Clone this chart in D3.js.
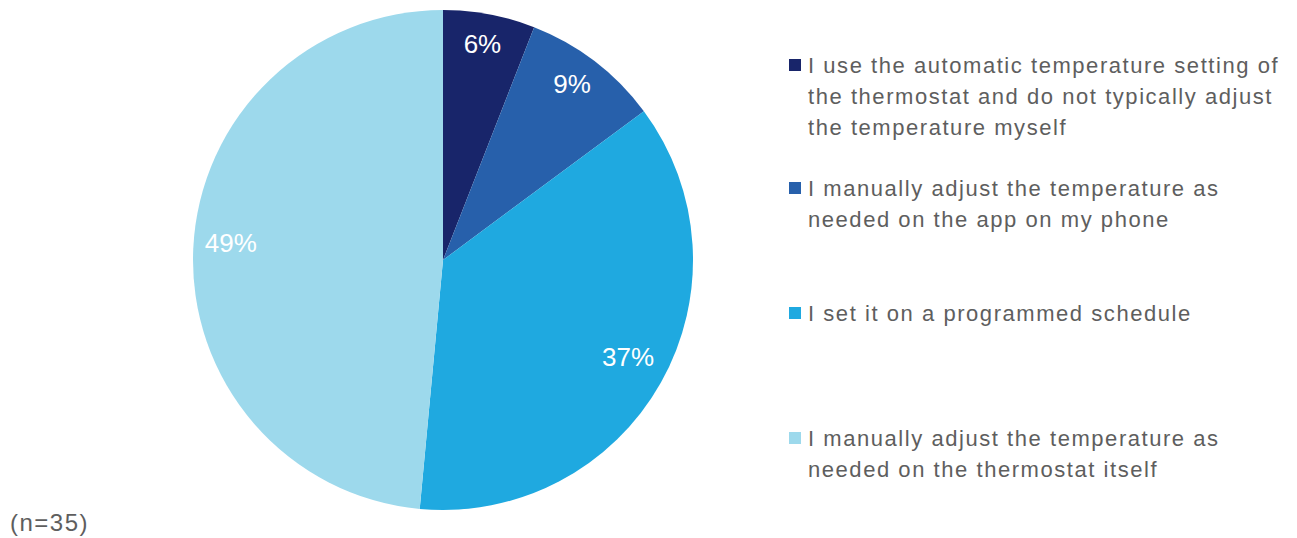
<!DOCTYPE html>
<html>
<head>
<meta charset="utf-8">
<script src="https://cdn.jsdelivr.net/npm/d3@7"></script>
<style>
  html, body { margin: 0; padding: 0; background: #fff; }
  svg { display: block; }
</style>
</head>
<body>
<svg id="chart" width="1297" height="538"></svg>
<script>
// Survey responses: how thermostat temperature is set (n=35)
const categories = [
  "I use the automatic temperature setting of the thermostat and do not typically adjust the temperature myself",
  "I manually adjust the temperature as needed on the app on my phone",
  "I set it on a programmed schedule",
  "I manually adjust the temperature as needed on the thermostat itself"
];
const legendLines = [
  ["I use the automatic temperature setting of", "the thermostat and do not typically adjust", "the temperature myself"],
  ["I manually adjust the temperature as", "needed on the app on my phone"],
  ["I set it on a programmed schedule"],
  ["I manually adjust the temperature as", "needed on the thermostat itself"]
];
const percents = [6, 9, 37, 49];
const colors = ["#18256a", "#2760ab", "#1fa9e0", "#9dd9ec"];
const sampleNote = "(n=35)";

const svg = d3.select("#chart");
const cx = 443, cy = 260, radius = 250;
const font = "'Liberation Sans', Arial, sans-serif";

const data = categories.map((c, i) => ({ category: c, value: percents[i], color: colors[i], lines: legendLines[i] }));

const pie = d3.pie().sort(null).value(d => d.value);
const arc = d3.arc().innerRadius(0).outerRadius(radius);
const labelArc = d3.arc().innerRadius(radius * 0.85).outerRadius(radius * 0.85);

const g = svg.append("g").attr("transform", `translate(${cx},${cy})`);
const arcs = pie(data);

g.selectAll("path.slice")
  .data(arcs)
  .join("path")
  .attr("class", "slice")
  .attr("d", arc)
  .attr("fill", d => d.data.color);

g.selectAll("text.pct")
  .data(arcs)
  .join("text")
  .attr("class", "pct")
  .attr("transform", d => {
    const [x, y] = labelArc.centroid(d);
    return `translate(${x},${y - 7})`;
  })
  .attr("text-anchor", "middle")
  .attr("dominant-baseline", "central")
  .attr("fill", "#ffffff")
  .style("font-family", font)
  .style("font-size", "26px")
  .text(d => d.data.value + "%");

// Legend
const legendX = 789, legendTextX = 808;
const legendTops = [65, 188, 313, 438];
const lineH = 31;

const legend = svg.append("g").attr("class", "legend");
data.forEach((d, i) => {
  const item = legend.append("g");
  item.append("rect")
    .attr("x", legendX)
    .attr("y", legendTops[i] - 6)
    .attr("width", 12)
    .attr("height", 12)
    .attr("fill", d.color);
  item.append("text")
    .attr("fill", "#5e5e5e")
    .style("font-family", font)
    .style("font-size", "22px")
    .style("letter-spacing", "1.55px")
    .selectAll("tspan")
    .data(d.lines)
    .join("tspan")
    .attr("x", legendTextX)
    .attr("y", (l, j) => legendTops[i] + j * lineH)
    .attr("dominant-baseline", "central")
    .text(l => l);
});

svg.append("text")
  .attr("x", 10)
  .attr("y", 522)
  .attr("dominant-baseline", "central")
  .attr("fill", "#5e5e5e")
  .style("font-family", font)
  .style("font-size", "24px")
  .style("letter-spacing", "1.5px")
  .text(sampleNote);
</script>
</body>
</html>
